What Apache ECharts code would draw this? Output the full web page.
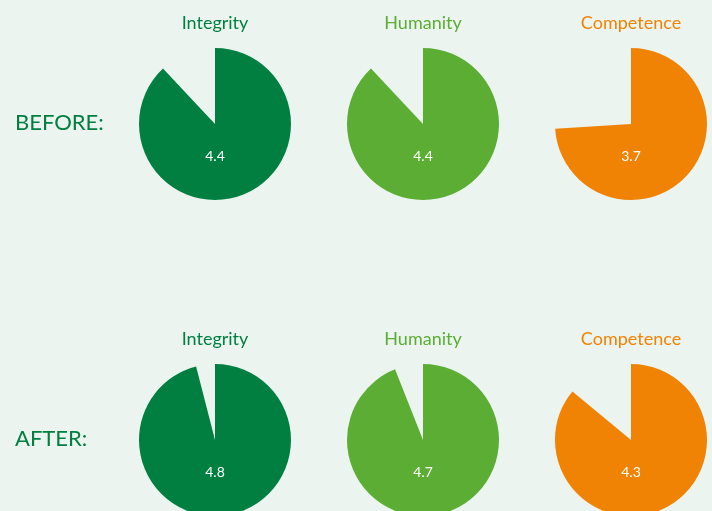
<!DOCTYPE html>
<html><head><meta charset="utf-8">
<script src="https://cdn.jsdelivr.net/npm/echarts@6/dist/echarts.min.js"></script>
<style>html,body{margin:0;padding:0;background:#EBF4EF;}#c{width:712px;height:511px;}</style>
</head><body><div id="c"></div>
<script>
const categories = ['Integrity', 'Humanity', 'Competence'];
const rows = ['BEFORE:', 'AFTER:'];
const beforeValues = [4.4, 4.4, 3.7];
const afterValues = [4.8, 4.7, 4.3];
const maxScore = 5;
const colors = ['#007F41', '#5BAE33', '#F08304'];

const chart = echarts.init(document.getElementById('c'));
const cx = [215, 423, 631];
const cy = [124, 440];
const rowVals = [beforeValues, afterValues];
const series = [];
const titles = [];
rows.forEach((r, ri) => {
  titles.push({text: r, left: 15, top: cy[ri] - 12, padding: 0,
    textStyle: {color: '#007F41', fontSize: 22, fontWeight: 'normal', fontFamily: 'Lato'}});
  categories.forEach((c, ci) => {
    titles.push({text: c, left: cx[ci], top: cy[ri] - 110, textAlign: 'center', padding: 0,
      textStyle: {color: colors[ci], fontSize: 18, fontWeight: 'normal', fontFamily: 'Lato'}});
    const v = rowVals[ri][ci];
    titles.push({text: String(v), left: cx[ci], top: cy[ri] + 25, textAlign: 'center', padding: 0, z: 10,
      textStyle: {color: '#ffffff', fontSize: 14, fontWeight: 'normal', fontFamily: 'Lato'}});
    series.push({
      type: 'pie', center: [cx[ci], cy[ri]], radius: 76, startAngle: 90, clockwise: true,
      silent: true, animation: false,
      label: {show: false}, labelLine: {show: false},
      data: [
        {value: v, itemStyle: {color: colors[ci]}},
        {value: maxScore - v, itemStyle: {color: 'rgba(0,0,0,0)'}}
      ]
    });
  });
});
chart.setOption({backgroundColor: '#EBF4EF', title: titles, series: series});
</script></body></html>
